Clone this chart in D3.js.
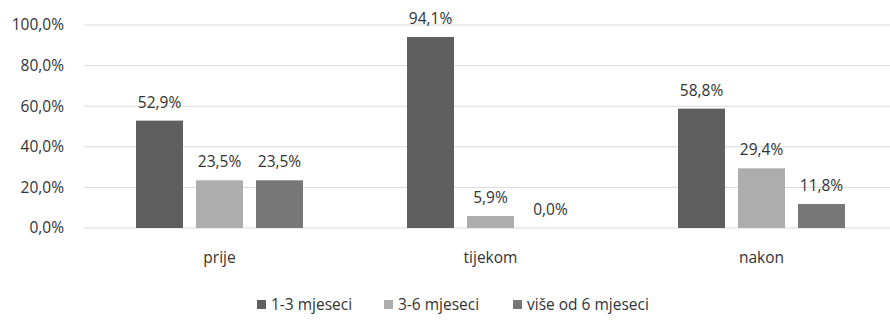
<!DOCTYPE html>
<html>
<head>
<meta charset="utf-8">
<script src="https://cdn.jsdelivr.net/npm/d3@7/dist/d3.min.js"></script>
<style>
  html, body { margin: 0; padding: 0; background: #fff; }
  svg { display: block; font-family: "Open Sans", sans-serif; }
</style>
</head>
<body>
<svg id="chart" width="890" height="320"></svg>
<script>
// Periods on the x axis
const categories = ["prije", "tijekom", "nakon"];
// Duration groups (series)
const seriesNames = ["1-3 mjeseci", "3-6 mjeseci", "više od 6 mjeseci"];
const seriesColors = ["#5f5f5f", "#adadad", "#777777"];
// Percentages per series, in category order
const s13 = [52.9, 94.1, 58.8];
const s36 = [23.5, 5.9, 29.4];
const s6plus = [23.5, 0.0, 11.8];
const seriesValues = [s13, s36, s6plus];
// Y axis ticks
const yTicks = [0, 20, 40, 60, 80, 100];

const W = 890, H = 320;
const FS = 15.5;
const TXT = "#333333";
const svg = d3.select("#chart");
const fmt = v => v.toFixed(1).replace(".", ",") + "%";

const x = d3.scaleBand().domain(categories).range([84, 897]);
const xs = d3.scaleBand().domain(d3.range(seriesNames.length)).range([0, x.bandwidth()])
  .paddingInner(0.2167).paddingOuter(0.867);
const y = d3.scaleLinear().domain([0, 100]).range([228, 25]);

// gridlines
svg.append("g").selectAll("line").data(yTicks).join("line")
  .attr("x1", 84).attr("x2", W)
  .attr("y1", d => y(d)).attr("y2", d => y(d))
  .attr("stroke", "#d9d9d9").attr("stroke-width", 1);

// y axis labels
const yAxis = d3.axisLeft(y).tickValues(yTicks).tickFormat(fmt).tickSize(0).tickPadding(0);
const ya = svg.append("g").attr("transform", "translate(64,0)").call(yAxis);
ya.select(".domain").remove();
ya.selectAll("text").attr("font-size", FS).attr("fill", TXT).attr("font-family", "Open Sans, sans-serif");

// bars
const rows = [];
categories.forEach((c, ci) => seriesValues.forEach((vals, si) => rows.push({c, si, v: vals[ci]})));

svg.append("g").selectAll("rect").data(rows).join("rect")
  .attr("x", d => x(d.c) + xs(d.si))
  .attr("width", xs.bandwidth())
  .attr("y", d => y(d.v))
  .attr("height", d => y(0) - y(d.v))
  .attr("fill", d => seriesColors[d.si]);

// value labels
svg.append("g").selectAll("text").data(rows).join("text")
  .attr("x", d => x(d.c) + xs(d.si) + xs.bandwidth() / 2)
  .attr("y", d => y(d.v) - 13)
  .attr("text-anchor", "middle")
  .attr("font-size", FS).attr("fill", TXT)
  .text(d => fmt(d.v));

// category labels
const xAxis = d3.axisBottom(x).tickSize(0).tickPadding(0);
const xa = svg.append("g").attr("transform", "translate(0,252)").call(xAxis);
xa.select(".domain").remove();
xa.selectAll("text").attr("font-size", FS).attr("fill", TXT).attr("font-family", "Open Sans, sans-serif");

// legend
const legendX = [257, 384, 513];
const lg = svg.append("g").selectAll("g").data(seriesNames).join("g")
  .attr("transform", (d, i) => `translate(${legendX[i]},300)`);
lg.append("rect").attr("width", 9).attr("height", 9).attr("fill", (d, i) => seriesColors[i]);
lg.append("text").attr("x", 14).attr("y", 10).attr("font-size", FS).attr("fill", TXT).text(d => d);
</script>
</body>
</html>
